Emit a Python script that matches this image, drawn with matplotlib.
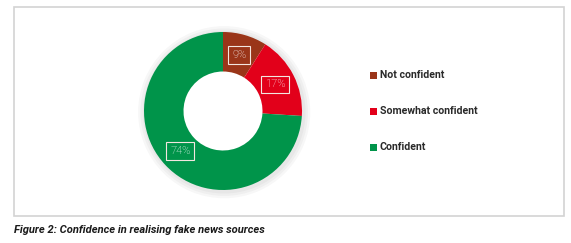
import matplotlib
matplotlib.use("Agg")
import matplotlib.pyplot as plt
from matplotlib.patches import Rectangle, Circle, Wedge

categories = ["Not confident", "Somewhat confident", "Confident"]
values = [9, 17, 74]
colors = ["#9a3519", "#e2001a", "#00944a"]
caption = "Figure 2: Confidence in realising fake news sources"

W, H = 571, 243
fig = plt.figure(figsize=(W / 100, H / 100), dpi=100)
fig.patch.set_facecolor("white")

# frame
fig.patches.append(Rectangle((14 / W, 1 - 216 / H), 550 / W, 209 / H,
                             transform=fig.transFigure, fill=False,
                             edgecolor="#d3d3d3", linewidth=1.2))

cx, cy, r = 223, 111, 79
s = 1.12
ax = fig.add_axes([(cx - r * s) / W, 1 - (cy + r * s) / H, 2 * s * r / W, 2 * s * r / H])
# soft shadow ring
for k in range(3):
    ax.add_patch(Wedge((0.015, -0.015), 1.0 + 0.03 * (k + 1), 0, 360,
                       width=0.1 + 0.03 * (k + 1), color="#000000",
                       alpha=0.03, lw=0, zorder=0))
wedges, texts, autotexts = ax.pie(
    values, colors=colors, startangle=90, counterclock=False,
    radius=1.0, wedgeprops=dict(width=0.5, linewidth=0),
    autopct=lambda p: f"{p:.0f}%", pctdistance=0.74,
    textprops=dict(color="white", fontsize=8, family="Roboto", fontweight="light"))
for t in autotexts:
    t.set_bbox(dict(boxstyle="square,pad=0.35", facecolor="none",
                    edgecolor="#f3e6e0", linewidth=0.8))
ax.set_xlim(-s, s)
ax.set_ylim(-s, s)
ax.set_aspect("equal")
ax.axis("off")

# legend
ys = [75, 111, 147]
for cat, col, y in zip(categories, colors, ys):
    fig.patches.append(Rectangle((370 / W, 1 - (y + 3.5) / H), 7 / W, 7 / H,
                                 transform=fig.transFigure, facecolor=col,
                                 edgecolor="none"))
    fig.text(380 / W, 1 - y / H, cat, fontsize=7.6, family="Roboto",
             fontweight="bold", color="#2a2a2a", va="center", ha="left")

fig.text(14 / W, 1 - 230 / H, caption, fontsize=8,
         family="Roboto", fontweight="bold",
         style="italic", color="#1a1a1a", va="center", ha="left")

fig.savefig("out.png", dpi=100, facecolor="white")
